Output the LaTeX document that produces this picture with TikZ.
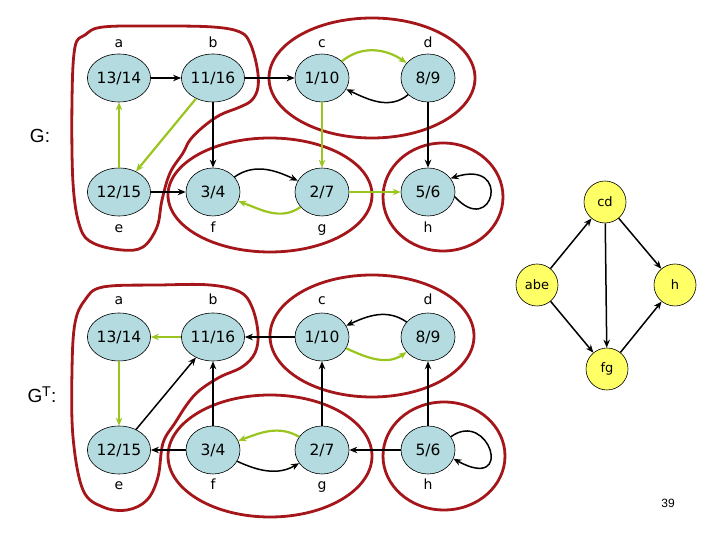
\documentclass[tikz,border=0pt]{standalone}
\usepackage{fontspec}
\setmainfont{DejaVu Sans}
\newfontfamily\arialf{Liberation Sans}
\usetikzlibrary{arrows.meta,shapes.geometric}
\definecolor{nodeblue}{RGB}{180,220,224}
\definecolor{grn}{RGB}{154,196,30}
\definecolor{redc}{RGB}{165,22,26}
\definecolor{yel}{RGB}{255,255,102}
\begin{document}
\begin{tikzpicture}[x=1pt,y=1pt,
  vtx/.style={ellipse,draw=black,line width=0.6pt,fill=nodeblue,minimum width=54pt,minimum height=48pt,inner sep=0pt,font=\fontsize{15.5}{15.5}\selectfont},
  dag/.style={circle,draw=black,line width=0.6pt,fill=yel,minimum size=42pt,inner sep=0pt,font=\fontsize{13}{13}\selectfont},
  lbl/.style={anchor=base,inner sep=0pt,font=\fontsize{14}{14}\selectfont},
  arr/.style={-{Stealth[length=8pt,width=6.5pt]}},
  blk/.style={arr,line width=1.5pt,draw=black},
  grl/.style={arr,line width=2.2pt,draw=grn},
  blob/.style={draw=redc,line width=2.8pt}]
\useasboundingbox (0,0) rectangle (720,540);
% ---------- red components (G) ----------
\draw[blob] plot[smooth cycle,tension=0.6] coordinates {(103,513) (160,514) (213,513) (240,508) (250,497) (257,473) (258,453) (252,440) (240,433) (220,425) (203,413) (190,400) (183,387) (170,367) (162,340) (157,313) (143,293) (122,290) (93,297) (80,313) (73,357) (72,440) (75,493) (85,505)};
\draw[blob] (372,462) ellipse [x radius=103pt,y radius=60pt];
\draw[blob] (270,345) ellipse [x radius=102pt,y radius=57pt];
\draw[blob] (443,343) ellipse [x radius=60pt,y radius=54pt];
% ---------- red components (GT) ----------
\draw[blob] plot[smooth cycle,tension=0.6] coordinates {(103,253) (160,255) (210,255) (240,248) (252,233) (258,207) (255,187) (242,173) (220,163) (200,150) (188,137) (175,117) (163,97) (158,63) (147,40) (127,30) (103,33) (83,50) (73,103) (72,170) (75,217) (85,240)};
\draw[blob] (372,204) ellipse [x radius=102pt,y radius=61pt];
\draw[blob] (270,84) ellipse [x radius=102pt,y radius=61pt];
\draw[blob] (444,84) ellipse [x radius=61pt,y radius=54pt];
% ---------- G nodes ----------
\node[vtx] (a1) at (119,462) {13/14};
\node[vtx] (b1) at (213,462) {11/16};
\node[vtx] (c1) at (322,462) {1/10};
\node[vtx] (d1) at (428,462) {8/9};
\node[vtx] (e1) at (119,348) {12/15};
\node[vtx] (f1) at (213,348) {3/4};
\node[vtx] (g1) at (322,348) {2/7};
\node[vtx] (h1) at (428,348) {5/6};
\node[lbl] (la1) at (119,492) {a};
\node[lbl] (lb1) at (213,492) {b};
\node[lbl] (lc1) at (322,492) {c};
\node[lbl] (ld1) at (428,492) {d};
\node[lbl] (le1) at (119,307) {e};
\node[lbl] (lf1) at (213,307) {f};
\node[lbl] (lg1) at (322,307) {g};
\node[lbl] (lh1) at (428,307) {h};
% ---------- GT nodes ----------
\node[vtx] (a2) at (119,203) {13/14};
\node[vtx] (b2) at (213,203) {11/16};
\node[vtx] (c2) at (322,203) {1/10};
\node[vtx] (d2) at (428,203) {8/9};
\node[vtx] (e2) at (119,90) {12/15};
\node[vtx] (f2) at (213,90) {3/4};
\node[vtx] (g2) at (322,90) {2/7};
\node[vtx] (h2) at (428,90) {5/6};
\node[lbl] (la2) at (119,235) {a};
\node[lbl] (lb2) at (213,235) {b};
\node[lbl] (lc2) at (322,235) {c};
\node[lbl] (ld2) at (428,235) {d};
\node[lbl] (le2) at (119,50) {e};
\node[lbl] (lf2) at (213,50) {f};
\node[lbl] (lg2) at (322,50) {g};
\node[lbl] (lh2) at (428,50) {h};
% ---------- titles ----------
\node[font=\arialf\fontsize{19}{19}\selectfont,inner sep=0pt] (tG) at (40,404) {G:};
\node[font=\arialf\fontsize{19}{19}\selectfont,inner sep=0pt] (tGT) at (42,145) {G$^{\mathrm{T}}$:};
\node[font=\arialf\fontsize{12}{12}\selectfont,inner sep=0pt] (pg) at (668,37) {39};
% ---------- G edges ----------
\draw[blk] (a1) -- (b1);
\draw[blk] (b1) -- (c1);
\draw[grl] (c1) to[out=40,in=145] (d1);
\draw[blk] (d1) to[out=-140,in=-25] (c1);
\draw[grl] (b1) -- (e1);
\draw[grl] (e1) -- (a1);
\draw[blk] (b1) -- (f1);
\draw[blk] (e1) -- (f1);
\draw[blk] (f1) to[out=35,in=155] (g1);
\draw[grl] (g1) to[out=-145,in=-20] (f1);
\draw[grl] (c1) -- (g1);
\draw[grl] (g1) -- (h1);
\draw[blk] (d1) -- (h1);
\draw[blk] (h1.-10) .. controls +(38,-42) and +(62,20) .. (h1.31);
% ---------- GT edges ----------
\draw[grl] (b2) -- (a2);
\draw[blk] (c2) -- (b2);
\draw[blk] (d2) to[out=145,in=25] (c2);
\draw[grl] (c2) to[out=-25,in=-145] (d2);
\draw[grl] (a2) -- (e2);
\draw[blk] (e2) -- (b2);
\draw[blk] (f2) -- (b2);
\draw[blk] (f2) -- (e2);
\draw[grl] (g2) to[out=150,in=20] (f2);
\draw[blk] (f2) to[out=-25,in=-150] (g2);
\draw[blk] (g2) -- (c2);
\draw[blk] (h2) -- (g2);
\draw[blk] (h2) -- (d2);
\draw[blk] (h2.30) .. controls +(38,28) and +(62,-34) .. (h2.-19);
% ---------- component DAG ----------
\node[dag] (Dcd) at (605,338) {cd};
\node[dag] (Dabe) at (537,255) {abe};
\node[dag] (Dh) at (675,255) {h};
\node[dag] (Dfg) at (607,171) {fg};
\draw[blk] (Dabe) -- (Dcd);
\draw[blk] (Dcd) -- (Dh);
\draw[blk] (Dcd) -- (Dfg);
\draw[blk] (Dabe) -- (Dfg);
\draw[blk] (Dfg) -- (Dh);
\end{tikzpicture}
\end{document}
